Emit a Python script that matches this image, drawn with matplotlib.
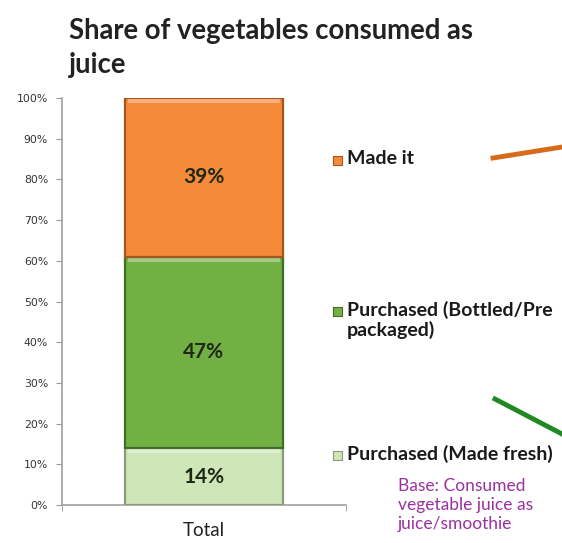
import matplotlib
matplotlib.use("Agg")
import matplotlib.pyplot as plt
from matplotlib.patches import Rectangle
from matplotlib.lines import Line2D

# Share of vegetables consumed as juice (stacked, bottom to top)
categories = ["Total"]
segments = ["Purchased (Made fresh)", "Purchased (Bottled/Pre\npackaged)", "Made it"]
shares = [14, 47, 39]
fills = ["#cfe6b8", "#72b043", "#f58a38"]
edges = ["#8a9a7e", "#3f6d25", "#a5561c"]
yticks = list(range(0, 101, 10))

W, H = 562, 543
fig = plt.figure(figsize=(W / 100, H / 100), dpi=100)
ax = fig.add_axes([62 / W, 1 - 505 / H, 284 / W, 407 / H])

bar_w = 0.553
bottom = 0
for val, fc, ec in zip(shares, fills, edges):
    ax.bar(0, val, width=bar_w, bottom=bottom, color=fc,
           edgecolor=ec, linewidth=1.6, zorder=3)
    # light bevel along top edge of each segment
    ax.add_patch(Rectangle((-bar_w / 2 + 0.01, bottom + val - 1.2), bar_w - 0.02, 1.0,
                           color="white", alpha=0.35, lw=0, zorder=4))
    ax.text(0, bottom + val / 2, f"{val}%", ha="center", va="center",
            fontsize=15, fontweight="bold", color="#1e2a16",
            family="Lato", zorder=5)
    bottom += val

ax.set_xlim(-0.5, 0.5)
ax.set_ylim(0, 100)
ax.set_yticks(yticks)
ax.set_yticklabels([f"{t}%" for t in yticks], fontsize=7.8, color="#333333",
                   family="DejaVu Sans")
ax.set_xticks([0])
ax.set_xticklabels(categories, fontsize=13.5, color="#222222", family="Lato")
ax.tick_params(axis="x", length=0, pad=12)
ax.set_xticks([-0.5, 0.5], minor=True)
ax.tick_params(axis="x", which="minor", length=4, color="#999999", direction="out")
ax.tick_params(axis="y", length=4, color="#999999", direction="out", pad=6)
for side in ["top", "right"]:
    ax.spines[side].set_visible(False)
for side in ["left", "bottom"]:
    ax.spines[side].set_color("#a0a0a0")
    ax.spines[side].set_linewidth(1.2)

# title, two lines
fig.text(69 / W, 1 - 39 / H, "Share of vegetables consumed as", ha="left",
         va="baseline", fontsize=19.8, fontweight="bold", color="#222222", family="Lato")
fig.text(69 / W, 1 - 73 / H, "juice", ha="left", va="baseline", fontsize=19.8,
         fontweight="bold", color="#222222", family="Lato")

# legend entries placed beside each segment
legend_y = [455, 311, 160]
for label, fc, ec, ly in zip(segments, fills, edges, legend_y):
    y = 1 - ly / H
    fig.patches.append(Rectangle((333 / W, y - 5 / H), 9 / W, 9 / H,
                                 facecolor=fc, edgecolor=ec, lw=0.8,
                                 transform=fig.transFigure))
    fig.text(347 / W, y + 10 / H, label, ha="left", va="top", fontsize=14,
             fontweight="bold", color="#1a1a1a", family="Lato",
             linespacing=1.1)

fig.text(398 / W, 1 - 478 / H, "Base: Consumed\nvegetable juice as\njuice/smoothie",
         ha="left", va="top", fontsize=12.5, color="#9b30a0", family="Lato",
         linespacing=1.25)

# connector strokes running off the right edge
fig.add_artist(Line2D([493 / W, 1.0], [1 - 158 / H, 1 - 147 / H],
                      transform=fig.transFigure, color="#d86a1c", lw=3.5))
fig.add_artist(Line2D([495 / W, 1.0], [1 - 399 / H, 1 - 434 / H],
                      transform=fig.transFigure, color="#1f8a22", lw=3.5))

fig.savefig("out.png", dpi=100)
